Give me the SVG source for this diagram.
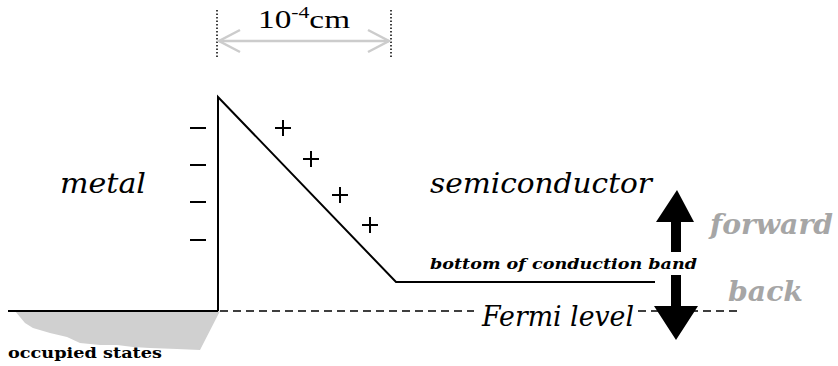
<svg xmlns="http://www.w3.org/2000/svg" width="838" height="366" viewBox="0 0 838 366">
<style>
.ln{stroke:#000;stroke-width:2;fill:none}
.dash{stroke:#000;stroke-width:1.5;stroke-dasharray:8,5;fill:none}
.dot{stroke:#000;stroke-width:1.5;stroke-dasharray:1.5,2;fill:none}
.big{font-family:"DejaVu Serif",serif;font-style:italic;font-size:28px;fill:#000}
.gray{font-family:"DejaVu Serif",serif;font-style:italic;font-weight:bold;font-size:27px;fill:#a6a6a6}
.sm{font-family:"DejaVu Serif",serif;font-style:italic;font-weight:bold;font-size:15px;fill:#000}
.sign{stroke:#000;stroke-width:2;fill:none}
</style>
<g id="occupied">
<path d="M15,311 L25,323 L33,328 L50,333 L67,337 L80,343 L100,345 L117,345 L133,347 L150,348 L177,349 L200,350 L220,311 Z" fill="#d0d0d0"/>
<text x="8" y="358" font-family="DejaVu Serif,serif" font-weight="bold" font-size="14.5" textLength="154" lengthAdjust="spacingAndGlyphs">occupied states</text>
</g>
<g id="connectors">
<line class="ln" x1="8" y1="311" x2="218" y2="311"/>
<polyline class="ln" points="218,311 218,97 396,282 655,282"/>
<line class="dash" x1="220" y1="311" x2="474" y2="311"/>
<line class="dash" x1="638" y1="311" x2="742" y2="311"/>
</g>
<g id="dimension">
<line class="dot" x1="217" y1="10" x2="217" y2="57"/>
<line class="dot" x1="391" y1="10" x2="391" y2="57"/>
<g stroke="#cccccc" stroke-width="2.5" fill="none">
<line x1="219" y1="41" x2="389" y2="41"/>
<polyline points="240,30 219,41 240,52"/>
<polyline points="368,30 389,41 368,52"/>
</g>
<text x="258" y="28" font-family="Liberation Serif,serif" font-size="26" textLength="92" lengthAdjust="spacingAndGlyphs">10<tspan font-size="17" dy="-10">-4</tspan><tspan dy="10">cm</tspan></text>
</g>
<g id="charges">
<line class="sign" x1="190" y1="128" x2="206" y2="128"/>
<line class="sign" x1="190" y1="165" x2="206" y2="165"/>
<line class="sign" x1="190" y1="202" x2="206" y2="202"/>
<line class="sign" x1="190" y1="240" x2="206" y2="240"/>
<path class="sign" d="M275,128 H291 M283,120 V136"/>
<path class="sign" d="M303,159 H319 M311,151 V167"/>
<path class="sign" d="M332,195 H348 M340,187 V203"/>
<path class="sign" d="M362,225 H378 M370,217 V233"/>
</g>
<g id="metal"><text class="big" x="60" y="193" textLength="86" lengthAdjust="spacingAndGlyphs">metal</text></g>
<g id="semiconductor"><text class="big" x="430" y="193" textLength="222" lengthAdjust="spacingAndGlyphs">semiconductor</text></g>
<g id="cb"><text class="sm" x="430" y="269" textLength="267" lengthAdjust="spacingAndGlyphs">bottom of conduction band</text></g>
<g id="fermi"><text class="big" x="482" y="326" textLength="152" lengthAdjust="spacingAndGlyphs">Fermi level</text></g>
<g id="arrows">
<path d="M677,190 L694,222 L681,222 L681,252 L671,252 L671,222 L656,222 Z" fill="#000"/>
<path d="M671,275 L681,275 L681,306 L698,306 L676,340 L654,306 L671,306 Z" fill="#000"/>
</g>
<g id="forward"><text class="gray" x="710" y="234" textLength="123" lengthAdjust="spacingAndGlyphs">forward</text></g>
<g id="back"><text class="gray" x="728" y="301" textLength="75" lengthAdjust="spacingAndGlyphs">back</text></g>
</svg>
